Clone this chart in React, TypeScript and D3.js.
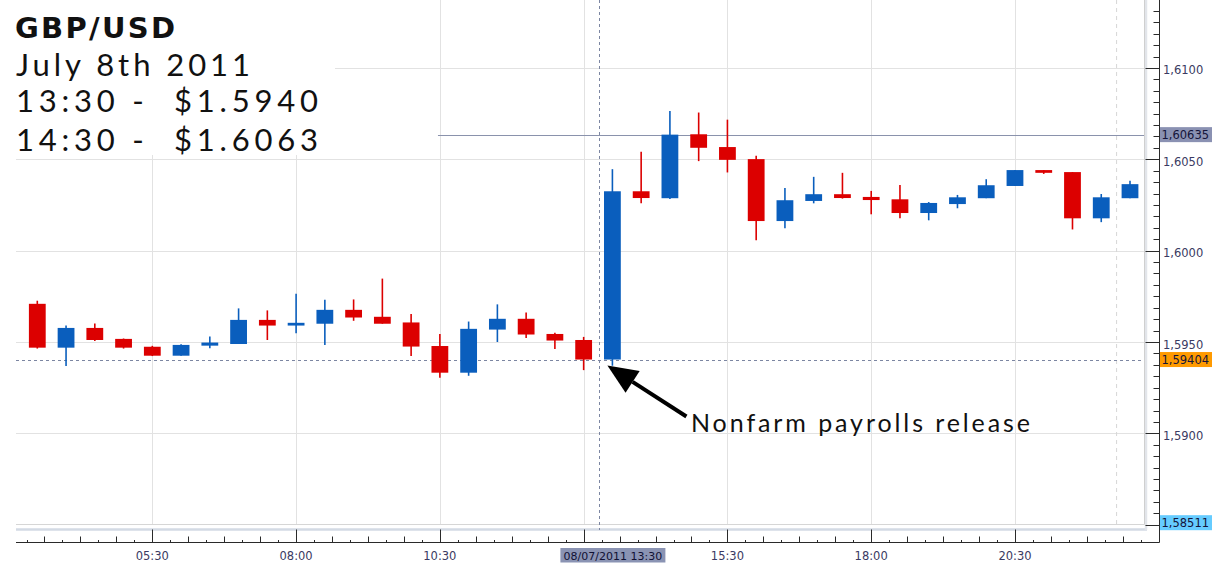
import React from 'react';
import * as d3 from 'd3';

// ---------- DATA ----------
const times = [
  '03:30', '04:00', '04:30', '05:00', '05:30', '06:00', '06:30', '07:00', '07:30', '08:00',
  '08:30', '09:00', '09:30', '10:00', '10:30', '11:00', '11:30', '12:00', '12:30', '13:00',
  '13:30', '14:00', '14:30', '15:00', '15:30', '16:00', '16:30', '17:00', '17:30', '18:00',
  '18:30', '19:00', '19:30', '20:00', '20:30', '21:00', '21:30', '22:00', '22:30',
];
const opens = [
  1.59709, 1.59469, 1.59577, 1.59517, 1.59474, 1.59425, 1.5948, 1.59489, 1.59621, 1.5959,
  1.596, 1.59676, 1.59638, 1.59607, 1.59478, 1.59332, 1.59568, 1.59627, 1.59544, 1.59511,
  1.59404, 1.60325, 1.60287, 1.60637, 1.60567, 1.60501, 1.60162, 1.60272, 1.60309, 1.60294,
  1.60281, 1.60206, 1.60255, 1.60287, 1.60354, 1.60441, 1.6043, 1.60177, 1.60287,
];
const highs = [
  1.59726, 1.5959, 1.59601, 1.59519, 1.59479, 1.59488, 1.5953, 1.59684, 1.59673, 1.59764,
  1.59731, 1.59733, 1.59847, 1.59653, 1.59544, 1.59612, 1.59706, 1.59662, 1.59551, 1.59528,
  1.60446, 1.60541, 1.60765, 1.60756, 1.60717, 1.6052, 1.60343, 1.60404, 1.60426, 1.60327,
  1.6036, 1.60266, 1.60305, 1.60391, 1.60441, 1.60441, 1.6043, 1.6031, 1.60382,
];
const lows = [
  1.59464, 1.59368, 1.59506, 1.59464, 1.59423, 1.59425, 1.59466, 1.59489, 1.59511, 1.59548,
  1.59484, 1.59616, 1.596, 1.59423, 1.59304, 1.59315, 1.595, 1.59522, 1.59462, 1.59346,
  1.5937, 1.60259, 1.60283, 1.6049, 1.60428, 1.60057, 1.60123, 1.60259, 1.60285, 1.60199,
  1.60177, 1.60166, 1.60232, 1.60287, 1.60354, 1.6042, 1.60116, 1.60156, 1.60287,
];
const closes = [
  1.59469, 1.59577, 1.59511, 1.59469, 1.59425, 1.59484, 1.59497, 1.59621, 1.5959, 1.59605,
  1.59676, 1.59634, 1.596, 1.59475, 1.59332, 1.59572, 1.59627, 1.59541, 1.59508, 1.59404,
  1.60325, 1.60288, 1.60635, 1.60563, 1.60497, 1.60162, 1.60276, 1.60309, 1.60288, 1.60277,
  1.60206, 1.60261, 1.60292, 1.60358, 1.60441, 1.60426, 1.60177, 1.60292, 1.60364,
];

const xTickLabels = ['05:30', '08:00', '10:30', '13:00', '15:30', '18:00', '20:30'];
const yGridValues = [1.59, 1.595, 1.6, 1.605, 1.61];
const yLabelValues = [1.59, 1.595, 1.6, 1.605, 1.61];
const highlightPrices = [1.60635, 1.59404, 1.58511];
const highlightLabels = ['1,60635', '1,59404', '1,58511'];
const dateLabel = '08/07/2011 13:30';
const releaseTime = '13:30';
const crosshairTime = '13:16';
const sessionLineTime = '22:16';
const priceLineStartTime = '10:28';
const titleLines = ['GBP/USD', 'July 8th 2011', '13:30 -\u00a0 $1.5940', '14:30 -\u00a0 $1.6063'];
const annotationText = 'Nonfarm payrolls release';

// ---------- LAYOUT ----------
const W = 1215;
const H = 566;
const plotLeft = 16;
const plotRight = 1144;
const plotBottom = 524.5;
const axisX = 1159.5;
const axisY = 542.5;

const toHours = (s: string) => {
  const [h, m] = s.split(':').map(Number);
  return h + m / 60;
};

const x = d3.scaleLinear().domain([3.5, 22.5]).range([37.3, 1130]);
const y = d3.scaleLinear().domain([1.595, 1.605]).range([342, 159.3]);

const RED = '#dc0000';
const BLUE = '#0a5ebd';
const AXIS = '#2a2a2a';
const LABEL = '#3a3a62';
const GRID = '#e2e2e2';
const REF = '#7c86a2';

const fmt = (v: number) => v.toFixed(4).replace('.', ',');

export default function App() {
  const candles = times.map((t, i) => ({
    t: toHours(t),
    o: opens[i],
    h: highs[i],
    l: lows[i],
    c: closes[i],
  }));
  const bodyW = 16.8;

  const xStep = 2.5 / 8;
  const xTicks: { px: number; kind: number }[] = [];
  for (let k = -20; k <= 80; k++) {
    const t = 5.5 + k * xStep;
    const px = x(t);
    if (px < plotLeft + 2 || px > axisX - 4) continue;
    const idx = ((k % 8) + 8) % 8;
    xTicks.push({ px, kind: idx === 0 ? 2 : idx % 2 === 0 ? 1 : 0 });
  }
  const yStep = 0.005 / 8;
  const yTicks: { py: number; major: boolean }[] = [];
  for (let k = 0; k < 100; k++) {
    const v = 1.585 + k * yStep;
    const py = y(v);
    if (py < 0) break;
    yTicks.push({ py, major: k % 8 === 0 });
  }

  const releaseX = x(toHours(releaseTime));
  const dateBoxW = 105;
  const visibleXLabels = xTickLabels.filter((t) => Math.abs(x(toHours(t)) - releaseX) > dateBoxW / 2 + 20);

  const tipX = releaseX - 5;
  const tipY = y(highlightPrices[1]) + 6;
  const tailX = tipX + 79;
  const tailY = tipY + 51;
  const len = Math.hypot(tailX - tipX, tailY - tipY);
  const ux = (tipX - tailX) / len;
  const uy = (tipY - tailY) / len;
  const headL = 30;
  const headW = 13;
  const bx = tipX - ux * headL;
  const by = tipY - uy * headL;
  const px = -uy;
  const py = ux;
  const head = `M${tipX},${tipY} L${bx + px * headW},${by + py * headW} L${bx - px * headW},${by - py * headW} Z`;

  const titleFont = 'Lato, "Open Sans", "DejaVu Sans", sans-serif';
  const boldFont = '"DejaVu Sans", Verdana, sans-serif';
  const axisFont = '"DejaVu Sans", Verdana, sans-serif';

  return (
    <svg
      width={W}
      height={H}
      viewBox={`0 0 ${W} ${H}`}
      style={{ position: 'absolute', left: 0, top: 0, background: '#fff' }}
    >
      <rect x={0} y={0} width={W} height={H} fill="#fff" />

      {yGridValues.map((v) => (
        <line key={'hg' + v} x1={plotLeft} x2={plotRight} y1={Math.round(y(v)) + 0.5} y2={Math.round(y(v)) + 0.5} stroke={GRID} strokeWidth={1} />
      ))}
      {xTickLabels.map((t) => (
        <line key={'vg' + t} x1={Math.round(x(toHours(t))) + 0.5} x2={Math.round(x(toHours(t))) + 0.5} y1={0} y2={plotBottom} stroke={GRID} strokeWidth={1} />
      ))}
      <line x1={x(toHours(sessionLineTime))} x2={x(toHours(sessionLineTime))} y1={0} y2={plotBottom} stroke="#d6d6d6" strokeDasharray="4,4" />

      <line x1={plotLeft} x2={plotRight + 3} y1={529.5} y2={529.5} stroke="#d3dae4" strokeWidth={2.5} />
      <line x1={plotRight + 2} x2={plotRight + 2} y1={0} y2={530} stroke="#e2e5ea" strokeWidth={2.5} />
      <line x1={plotLeft} x2={plotRight + 0.5} y1={plotBottom} y2={plotBottom} stroke="#d6d6d6" strokeWidth={1} />
      <line x1={plotRight + 0.5} x2={plotRight + 0.5} y1={0} y2={plotBottom} stroke="#cfcfcf" strokeWidth={1} />

      <rect x={0} y={0} width={335} height={155} fill="#fff" />

      <line x1={x(toHours(priceLineStartTime))} x2={plotRight} y1={Math.round(y(highlightPrices[0])) + 0.5} y2={Math.round(y(highlightPrices[0])) + 0.5} stroke="#8a92ac" strokeWidth={1} />
      <line x1={plotLeft} x2={plotRight} y1={Math.round(y(highlightPrices[1])) + 0.5} y2={Math.round(y(highlightPrices[1])) + 0.5} stroke={REF} strokeWidth={1} strokeDasharray="3,3" />
      <line x1={Math.round(x(toHours(crosshairTime))) + 0.5} x2={Math.round(x(toHours(crosshairTime))) + 0.5} y1={0} y2={530} stroke={REF} strokeWidth={1} strokeDasharray="3,3" />

      {candles.map((d, i) => {
        const up = d.c > d.o;
        const col = up ? BLUE : RED;
        const cx = x(d.t);
        const top = y(Math.max(d.o, d.c));
        const bot = y(Math.min(d.o, d.c));
        return (
          <g key={i}>
            <line x1={cx} x2={cx} y1={y(d.h)} y2={y(d.l)} stroke={col} strokeWidth={1.6} />
            <rect x={cx - bodyW / 2} y={top} width={bodyW} height={Math.max(2, bot - top)} fill={col} />
          </g>
        );
      })}

      <line x1={axisX} x2={axisX} y1={0} y2={axisY} stroke={AXIS} strokeWidth={1} />
      {yTicks.map((t, i) => (
        <line key={'yt' + i} x1={axisX - (t.major ? 14 : 6)} x2={axisX} y1={Math.round(t.py) + 0.5} y2={Math.round(t.py) + 0.5} stroke={AXIS} strokeWidth={1} />
      ))}
      {yLabelValues.map((v) => (
        <text key={'yl' + v} x={1163} y={y(v) + 6.5} fontFamily={axisFont} fontSize={11.5} fill={LABEL}>
          {fmt(v)}
        </text>
      ))}
      {highlightPrices.map((p, i) => {
        const fills = ['#8a91b2', '#ff9a00', '#66ccff'];
        return (
          <g key={'hl' + i}>
            <rect x={1160} y={y(p) - 7.5} width={52} height={15} fill={fills[i]} />
            <text x={1161.5} y={y(p) + 4.5} fontFamily={axisFont} fontSize={11.5} fill="#14143a">
              {highlightLabels[i]}
            </text>
          </g>
        );
      })}

      <line x1={plotLeft} x2={axisX} y1={axisY} y2={axisY} stroke={AXIS} strokeWidth={1} />
      {xTicks.map((t, i) => {
        const h = t.kind === 2 ? 13 : t.kind === 1 ? 6 : 2.5;
        const xx = Math.round(t.px) + 0.5;
        return <line key={'xt' + i} x1={xx} x2={xx} y1={axisY} y2={axisY - h} stroke={AXIS} strokeWidth={1} />;
      })}
      {visibleXLabels.map((t) => (
        <text key={'xl' + t} x={x(toHours(t))} y={560} textAnchor="middle" fontFamily={axisFont} fontSize={11.5} fill={LABEL}>
          {t}
        </text>
      ))}
      <rect x={releaseX - 52} y={548} width={dateBoxW} height={14.5} fill="#8a93b3" />
      <text x={releaseX + 0.5} y={559.5} textAnchor="middle" fontFamily={axisFont} fontSize={11} fill="#111133">
        {dateLabel}
      </text>

      <text x={15} y={38} fontFamily={boldFont} fontWeight={700} fontSize={29} fill="#111" textLength={160} lengthAdjust="spacing">
        {titleLines[0]}
      </text>
      <text x={16} y={76} fontFamily={titleFont} fontWeight={400} fontSize={31} fill="#111" textLength={234} lengthAdjust="spacing">
        {titleLines[1]}
      </text>
      <text x={16} y={112.3} fontFamily={titleFont} fontWeight={400} fontSize={31} fill="#111" textLength={302} lengthAdjust="spacing">
        {titleLines[2]}
      </text>
      <text x={16} y={150.7} fontFamily={titleFont} fontWeight={400} fontSize={31} fill="#111" textLength={302} lengthAdjust="spacing">
        {titleLines[3]}
      </text>

      <line x1={tailX} x2={bx} y1={tailY} y2={by} stroke="#000" strokeWidth={4} />
      <path d={head} fill="#000" />
      <text x={691} y={432} fontFamily={titleFont} fontWeight={400} fontSize={25} fill="#111" textLength={339} lengthAdjust="spacing">
        {annotationText}
      </text>
    </svg>
  );
}
